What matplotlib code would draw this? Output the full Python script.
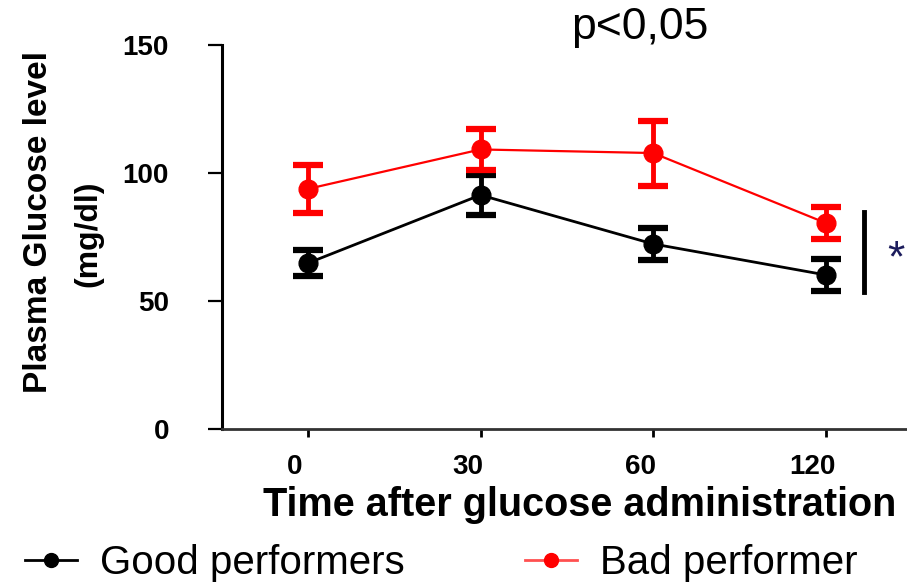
import matplotlib
matplotlib.use('Agg')
import matplotlib.pyplot as plt
from matplotlib.lines import Line2D

plt.rcParams['font.family'] = ['Liberation Sans', 'DejaVu Sans']

# Daten
times = ['0', '30', '60', '120']
good_mean = [64.8, 91.4, 72.3, 60.2]
good_err = [5.2, 7.8, 6.3, 6.4]
bad_mean = [93.8, 109.2, 107.8, 80.5]
bad_err = [9.5, 8.0, 12.7, 6.2]
sig_range = [53.5, 84.8]
sig_x = 3.22
star_x, star_y = 3.41, 66

fig = plt.figure(figsize=(9.07, 5.86), dpi=100)
ax = fig.add_axes([0.2444, 0.2679, 0.7610, 0.6553])
x = list(range(len(times)))

ax.errorbar(x, good_mean, yerr=good_err, color='black', lw=2, marker='o', ms=13.5,
            elinewidth=3.5, capsize=11, capthick=4.5, zorder=3)
ax.errorbar(x, bad_mean, yerr=bad_err, color='#ff0000', lw=1.6, marker='o', ms=13.5,
            elinewidth=3.5, capsize=11, capthick=4.5, zorder=3)

# Signifikanz
ax.plot([sig_x, sig_x], sig_range, color='black', lw=3.5, clip_on=False)
ax.text(star_x, star_y, '*', color='#1c1c5c', fontsize=32, ha='center', va='center')

ax.set_xlim(-0.5, 3.5)
ax.set_ylim(0, 150)
ax.set_yticks([0, 50, 100, 150])
ax.set_yticklabels(['0', '50', '100', '150'], fontsize=20, fontweight='bold')
# Beschriftung leicht links von den Strichen, wie im Original
ax.set_xticks(x)
ax.set_xticklabels([])
ax.set_xticks([i - 0.075 for i in x], minor=True)
ax.set_xticklabels(times, minor=True, fontsize=20, fontweight='bold')

for s in ['top', 'right']:
    ax.spines[s].set_visible(False)
ax.spines['left'].set_linewidth(2.2)
ax.spines['bottom'].set_linewidth(2)
ax.spines['bottom'].set_color('#333333')
ax.tick_params(axis='y', direction='out', length=10, width=1.6, pad=28)
ax.tick_params(axis='x', which='major', direction='out', length=6, width=2)
ax.tick_params(axis='x', which='minor', length=0, pad=18)

fig.text(0.042, 1 - 222 / 586, 'Plasma Glucose level', rotation=90, fontsize=24,
         fontweight='bold', ha='center', va='center')
fig.text(0.097, 1 - 234 / 586, '(mg/dl)', rotation=90, fontsize=23,
         fontweight='bold', ha='center', va='center')
fig.text(580 / 907, 1 - 505 / 586, 'Time after glucose administration', fontsize=28.5,
         fontweight='bold', ha='center', va='center')
fig.text(640 / 907, 1 - 28 / 586, 'p<0,05', fontsize=32, ha='center', va='center')

handles = [Line2D([], [], color='black', lw=2, marker='o', ms=10),
           Line2D([], [], color='#ff5050', lw=2, marker='o', ms=10, mfc='#ff0000', mec='#ff0000')]
fig.legend(handles, ['Good performers', 'Bad performer'], loc='center left',
           bbox_to_anchor=(25 / 907, 1 - 563 / 586), ncol=2, frameon=False,
           fontsize=29, handlelength=1.3, handletextpad=0.55, columnspacing=3.0,
           borderaxespad=0, borderpad=0)

fig.savefig('out.png', dpi=100)
